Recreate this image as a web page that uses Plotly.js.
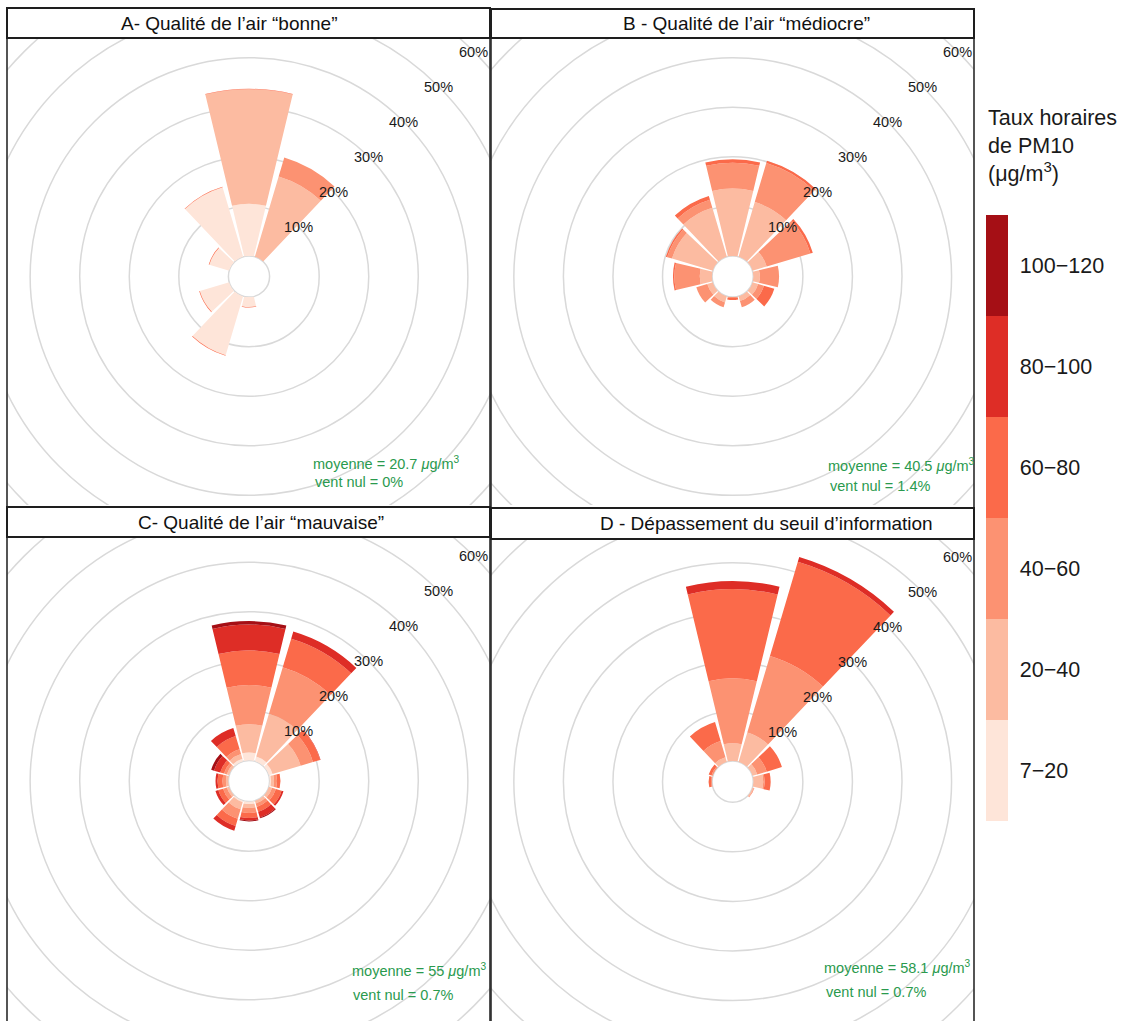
<!DOCTYPE html>
<html>
<head>
<meta charset="utf-8">
<script src="https://cdn.plot.ly/plotly-3.0.1.min.js"></script>
<style>
  html, body { margin: 0; padding: 0; background: #ffffff; }
  #chart { width: 1126px; height: 1021px; }
</style>
</head>
<body>
<div id="chart"></div>
<script>
// ---------------- DATA ----------------
const directions = [0, 30, 60, 90, 120, 150, 180, 210, 240, 270, 300, 330];
const classLabels = ['7\u221220', '20\u221240', '40\u221260', '60\u221280', '80\u2212100', '100\u2212120'];

// Panel A - "bonne"  (% of hours per direction, stacked by class)
const a_7_20    = [10.5, 0,    0, 0, 0, 0, 2.0, 12.4, 6.2, 0, 4.2, 14.6];
const a_20_40   = [23.1, 16.9, 0, 0, 0, 0, 0,   0,    0,   0, 0,   0];
const a_40_60   = [0,    4.0,  0, 0, 0, 0, 0,   0,    0,   0, 0,   0];
const a_60_80   = [0.1,  0,    0, 0, 0, 0, 0.12, 0.12, 0.12, 0, 0.12, 0.12];
const a_80_100  = [0, 0, 0, 0, 0, 0, 0, 0, 0, 0, 0, 0];
const a_100_120 = [0, 0, 0, 0, 0, 0, 0, 0, 0, 0, 0, 0];

// Panel B - "médiocre"
const b_7_20    = [0, 0, 0, 0, 0, 0, 0, 0, 0, 0, 0, 0];
const b_20_40   = [13.6, 11.5, 3.0, 1.3, 1.2, 1.0, 0,   1.3, 1.2, 2.5, 8.6, 10.3];
const b_40_60   = [5.2,  8.2,  9.2, 3.9, 1.2, 1.3, 0.2, 1.0, 2.3, 5.1, 1.0, 1.7];
const b_60_80   = [0.7,  0.5,  0.5, 0,   2.2, 0,   0.4, 0,   0,   0.3, 0.3, 0.8];
const b_80_100  = [0, 0, 0, 0, 0, 0, 0, 0, 0, 0, 0, 0];
const b_100_120 = [0, 0, 0, 0, 0, 0, 0, 0, 0, 0, 0, 0];

// Panel C - "mauvaise"
const c_7_20    = [1.6, 1.0, 0.8, 0.3, 0,   0,   0.5, 0.3, 0,   0,   0,   0.5];
const c_20_40   = [5.7, 9.0, 5.9, 0.6, 0.7, 0.6, 0.8, 1.5, 0.5, 0.5, 0.5, 1.0];
const c_40_60   = [7.9, 9.8, 2.6, 0.6, 0.8, 0.7, 1.0, 2.0, 0.8, 0.7, 0.6, 1.0];
const c_60_80   = [7.0, 6.0, 1.5, 0.7, 1.2, 1.0, 1.0, 1.5, 1.0, 1.0, 0.8, 2.8];
const c_80_100  = [5.2, 1.5, 0.1, 0,   0.4, 1.2, 0.5, 1.0, 0.6, 0.4, 1.3, 1.7];
const c_100_120 = [0.7, 0,   0,   0,   0,   0.2, 0.2, 0,   0,   0,   0.6, 0];

// Panel D - dépassement du seuil d'information
const d_7_20    = [0, 0, 0, 0, 0, 0, 0, 0, 0, 0, 0, 0];
const d_20_40   = [3.6,  6.2,  1.0, 2.0, 0.3, 0, 0, 0, 0, 0,   0,   1.0];
const d_40_60   = [13.1, 16.1, 2.0, 0.3, 0,   0, 0, 0, 0, 0.2, 0.3, 3.4];
const d_60_80   = [18.0, 19.8, 3.2, 1.2, 0.1, 0, 0, 0, 0, 0.5, 0.6, 4.0];
const d_80_100  = [1.6,  1.0,  0,   0,   0,   0, 0, 0, 0, 0,   0,   0];
const d_100_120 = [0, 0, 0, 0, 0, 0, 0, 0, 0, 0, 0, 0];

const panelTitles = [
  'A- Qualit\u00e9 de l\u2019air \u201cbonne\u201d',
  'B - Qualit\u00e9 de l\u2019air \u201cm\u00e9diocre\u201d',
  'C- Qualit\u00e9 de l\u2019air \u201cmauvaise\u201d',
  'D - D\u00e9passement du seuil d\u2019information'
];
const meanValues = ['20.7', '40.5', '55', '58.1'];
const calmValues = ['0%', '1.4%', '0.7%', '0.7%'];
const ringTicks = [0, 10, 20, 30, 40, 50, 60];
const ringLabels = [10, 20, 30, 40, 50, 60];
const legendTitle = 'Taux horaires<br>de PM10<br>(\u03bcg/m<sup>3</sup>)';

// ---------------- STYLE / LAYOUT CONSTANTS ----------------
const classColors = ['#FEE5D9', '#FCBBA1', '#FC9272', '#FB6A4A', '#DE2D26', '#A50F15'];
const W = 1126, H = 1021;
const FONT = 'Liberation Sans, Arial, Helvetica, sans-serif';
const R_OUT = 238.7, R_HOLE = 20.6, RMAX = 44;
const S = (R_OUT - R_HOLE) / RMAX;   // px per %
const OFF = R_HOLE / S;               // hole offset in % units
const GREEN = '#2a9a4e';

const panelGeom = [
  {cx: 249,   cy: 276.5, box: [7, 490, 38, 505],    strip: [7, 490, 8, 38],     titleX: 229,   titleY: 23,
   meanPos: [311, 463], calmPos: [313, 482]},
  {cx: 732.7, cy: 276.5, box: [491, 974, 38, 505],  strip: [491, 974, 9, 38],   titleX: 746.7, titleY: 23.5,
   meanPos: [826, 465], calmPos: [828, 486]},
  {cx: 249,   cy: 781,   box: [7, 490, 537, 1021],  strip: [7, 490, 507, 537],  titleX: 260.5, titleY: 522,
   meanPos: [350, 970], calmPos: [351, 995]},
  {cx: 732.7, cy: 781.7, box: [491, 974, 539, 1021], strip: [491, 974, 508, 539], titleX: 766, titleY: 523.5,
   meanPos: [822, 967], calmPos: [824, 992]}
];

const panelData = [
  [a_7_20, a_20_40, a_40_60, a_60_80, a_80_100, a_100_120],
  [b_7_20, b_20_40, b_40_60, b_60_80, b_80_100, b_100_120],
  [c_7_20, c_20_40, c_40_60, c_60_80, c_80_100, c_100_120],
  [d_7_20, d_20_40, d_40_60, d_60_80, d_80_100, d_100_120]
];

function px(x) { return x / W; }
function py(y) { return 1 - y / H; }

const traces = [];
const layout = {
  width: W, height: H,
  margin: {l: 0, r: 0, t: 0, b: 0, pad: 0},
  paper_bgcolor: '#ffffff',
  plot_bgcolor: '#ffffff',
  showlegend: false,
  font: {family: FONT, color: '#1a1a1a'},
  shapes: [],
  annotations: []
};

panelGeom.forEach((g, i) => {
  const n = i === 0 ? '' : String(i + 1);
  const polarKey = 'polar' + n;
  // ---- cartesian helper subplot (clip region for the grid rings) ----
  const [x0, x1, y0, y1] = g.box;
  layout['xaxis' + n] = {
    domain: [px(x0), px(x1)], range: [(x0 - g.cx) / S, (x1 - g.cx) / S],
    autorange: false, visible: false, fixedrange: true, anchor: 'y' + n
  };
  layout['yaxis' + n] = {
    domain: [Math.max(0, py(y1)), py(y0)], range: [(g.cy - y1) / S, (g.cy - y0) / S],
    autorange: false, visible: false, fixedrange: true, anchor: 'x' + n
  };
  traces.push({type: 'scatter', x: [], y: [], xaxis: 'x' + n, yaxis: 'y' + n,
               hoverinfo: 'skip', showlegend: false});

  ringTicks.forEach(v => {
    const rr = v + OFF;
    layout.shapes.push({type: 'circle', xref: 'x' + n, yref: 'y' + n, layer: 'below',
      x0: -rr, x1: rr, y0: -rr, y1: rr, line: {color: '#d9d9d9', width: 1.5}});
  });
  ringLabels.forEach(v => {
    const rr = (v + OFF) * Math.SQRT1_2;
    layout.annotations.push({xref: 'x' + n, yref: 'y' + n, x: rr, y: rr, text: v + '%',
      showarrow: false, xanchor: 'center', yanchor: 'middle',
      font: {family: FONT, size: 14.5, color: '#1a1a1a'}});
  });

  // ---- polar subplot for the rose ----
  layout[polarKey] = {
    domain: {x: [px(g.cx - R_OUT), px(g.cx + R_OUT)],
             y: [Math.max(0, py(g.cy + R_OUT)), Math.min(1, py(g.cy - R_OUT))]},
    hole: R_HOLE / R_OUT,
    bgcolor: 'rgba(0,0,0,0)',
    barmode: 'stack',
    radialaxis: {range: [0, RMAX], visible: false, showgrid: false, showline: false, ticks: ''},
    angularaxis: {rotation: 90, direction: 'clockwise', visible: false, showgrid: false,
                  showline: false, ticks: ''}
  };
  panelData[i].forEach((vals, k) => {
    traces.push({type: 'barpolar', subplot: polarKey, r: vals, theta: directions,
      width: 27, marker: {color: classColors[k], line: {width: 0}},
      name: classLabels[k], hoverinfo: 'skip', showlegend: false});
  });

  // ---- frames and strip ----
  layout.shapes.push({type: 'rect', xref: 'paper', yref: 'paper', layer: 'above',
    x0: px(x0), x1: px(x1), y0: py(y1 + 4), y1: py(y0),
    line: {color: '#2b2b2b', width: 1.6}, fillcolor: 'rgba(0,0,0,0)'});
  const [sx0, sx1, sy0, sy1] = g.strip;
  layout.shapes.push({type: 'rect', xref: 'paper', yref: 'paper', layer: 'above',
    x0: px(sx0), x1: px(sx1), y0: py(sy1), y1: py(sy0),
    line: {color: '#1e1e1e', width: 2}, fillcolor: '#ffffff'});
  layout.annotations.push({xref: 'paper', yref: 'paper', x: px(g.titleX), y: py(g.titleY),
    text: panelTitles[i], showarrow: false, xanchor: 'center', yanchor: 'middle',
    font: {family: FONT, size: 19, color: '#111111'}});

  // ---- statistics text ----
  layout.annotations.push({xref: 'paper', yref: 'paper', x: px(g.meanPos[0]), y: py(g.meanPos[1]),
    text: 'moyenne = ' + meanValues[i] + ' <i>\u03bc</i>g/m<sup>3</sup>', showarrow: false,
    xanchor: 'left', yanchor: 'middle', font: {family: FONT, size: 14.5, color: GREEN}});
  layout.annotations.push({xref: 'paper', yref: 'paper', x: px(g.calmPos[0]), y: py(g.calmPos[1]),
    text: 'vent nul = ' + calmValues[i], showarrow: false,
    xanchor: 'left', yanchor: 'middle', font: {family: FONT, size: 14.5, color: GREEN}});
});

// ---- legend (discrete colour bar) ----
const nCls = classColors.length;
const discreteScale = [];
classColors.forEach((c, k) => {
  discreteScale.push([k / nCls, c]);
  discreteScale.push([(k + 1) / nCls, c]);
});
traces.push({
  type: 'scatter', mode: 'markers', x: [null], y: [null], xaxis: 'x', yaxis: 'y',
  hoverinfo: 'skip', showlegend: false,
  marker: {
    color: [0], cmin: 0, cmax: nCls, colorscale: discreteScale, showscale: true,
    colorbar: {
      x: px(986), xanchor: 'left', xpad: 0,
      y: py(518), yanchor: 'middle', ypad: 0,
      thicknessmode: 'pixels', thickness: 22,
      lenmode: 'pixels', len: 606,
      outlinewidth: 0,
      tickmode: 'array',
      tickvals: classLabels.map((_, k) => k + 0.5),
      ticktext: classLabels,
      ticks: 'outside', ticklen: 8, tickcolor: 'rgba(0,0,0,0)',
      tickfont: {family: FONT, size: 21.5, color: '#1a1a1a'},
      title: {text: ''}
    }
  }
});
layout.annotations.push({xref: 'paper', yref: 'paper', x: px(986), y: py(104),
  text: legendTitle, showarrow: false, xanchor: 'left', yanchor: 'top', align: 'left',
  font: {family: FONT, size: 21.5, color: '#1a1a1a'}});

Plotly.newPlot('chart', traces, layout, {staticPlot: true, displayModeBar: false});
</script>
</body>
</html>
